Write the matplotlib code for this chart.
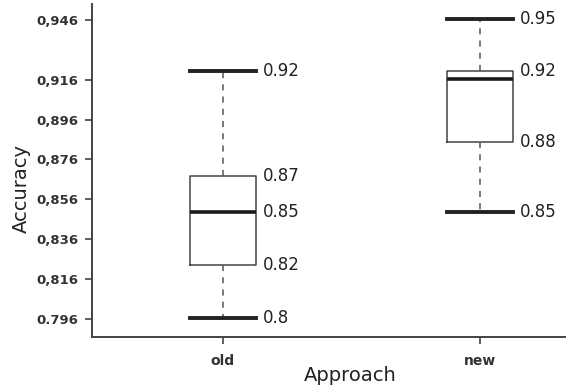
import matplotlib
matplotlib.use("Agg")
import matplotlib.pyplot as plt

# ---- data ----
categories = ["old", "new"]
whisker_low = [0.7965, 0.8498]
q1 = [0.8232, 0.8850]
median = [0.8497, 0.9163]
q3 = [0.8675, 0.9202]
whisker_high = [0.9203, 0.9466]

# value labels shown next to each box (value, text)
old_labels = [(0.9203, "0.92"), (0.8675, "0.87"), (0.8497, "0.85"), (0.8232, "0.82"), (0.7965, "0.8")]
new_labels = [(0.9466, "0.95"), (0.9202, "0.92"), (0.8850, "0.88"), (0.8498, "0.85")]

ytick_values = [0.796, 0.816, 0.836, 0.856, 0.876, 0.896, 0.916, 0.946]
ytick_labels = ["0.796", "0,816", "0,836", "0,856", "0,876", "0,896", "0,916", "0,946"]

fig = plt.figure(figsize=(5.7, 3.91), dpi=100)
ax = fig.add_axes([92/570, 1-337/391, (565-92)/570, (337-4)/391])

positions = [1, 2]
stats = []
for i, c in enumerate(categories):
    stats.append(dict(label=c, whislo=whisker_low[i], q1=q1[i], med=median[i],
                      q3=q3[i], whishi=whisker_high[i], fliers=[]))

box_w = 0.255
ax.bxp(stats, positions=positions, widths=box_w, showfliers=False,
       boxprops=dict(color="#444444", linewidth=1.1),
       medianprops=dict(color="#1a1a1a", linewidth=2.6),
       whiskerprops=dict(color="#555555", linewidth=1.1, linestyle=(0, (4, 4))),
       capprops=dict(color="#222222", linewidth=2.8),
       capwidths=box_w)

for pos, labs in zip(positions, [old_labels, new_labels]):
    for v, t in labs:
        ax.annotate(t, xy=(pos + box_w/2, v), xytext=(5, 0), textcoords="offset points",
                    ha="left", va="center", fontsize=12, color="#222222",
                    family="DejaVu Sans")

ax.set_xlim(0.492, 2.33)
ax.set_ylim(0.7869, 0.954)

ax.set_yticks(ytick_values)
ax.set_yticklabels(ytick_labels)
ax.set_xticks(positions)
ax.set_xticklabels(categories)

for lab in ax.get_yticklabels() + ax.get_xticklabels():
    lab.set_family("DejaVu Sans")
    lab.set_fontweight("bold")
    lab.set_fontsize(9.5)
    lab.set_color("#333333")
for lab in ax.get_xticklabels():
    lab.set_fontsize(10)

ax.tick_params(axis="both", direction="out", length=5, width=1.2, color="#444444")
ax.tick_params(axis="y", pad=5)
ax.tick_params(axis="x", pad=7)

for s in ["top", "right"]:
    ax.spines[s].set_visible(False)
for s in ["left", "bottom"]:
    ax.spines[s].set_color("#444444")
    ax.spines[s].set_linewidth(1.4)

ax.set_xlabel("Approach", fontsize=14, color="#222222")
ax.set_ylabel("Accuracy", fontsize=14, color="#222222")
ax.xaxis.set_label_coords(0.545, -0.088)
ax.yaxis.set_label_coords(-0.13, 0.447)

fig.savefig("out.png", dpi=100)
